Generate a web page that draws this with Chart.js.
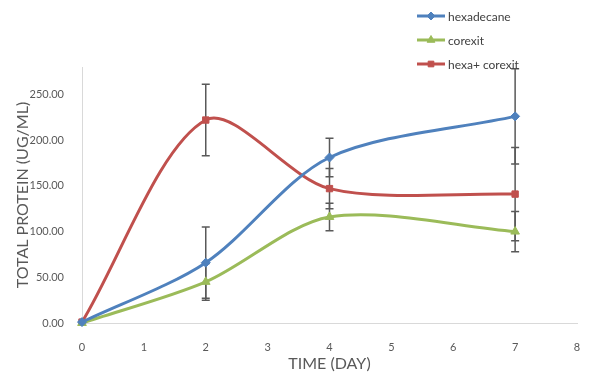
<!DOCTYPE html>
<html>
<head>
<meta charset="utf-8">
<title>Total protein</title>
<script src="https://cdn.jsdelivr.net/npm/chart.js@4"></script>
<style>
    body { margin: 0; background: #fff; }
    #wrap { position: relative; width: 595px; height: 377px; }
    #legend { position: absolute; left: 417px; top: 4px; font-family: Lato, sans-serif; font-size: 12px; color: #404040; }
    #legend div { height: 24px; display: flex; align-items: center; }
    #legend canvas { margin-right: 3px; }
</style>
</head>
<body>
<div id="wrap">
    <canvas id="proteinChart" width="595" height="377"></canvas>
    <div id="legend"></div>
</div>
<script>
// data
const days = [0, 2, 4, 7];
const seriesNames = ['hexadecane', 'corexit', 'hexa+ corexit'];
const hexadecane = [1, 66, 181, 226];
const hexadecaneErr = [0, 39, 21, 52];
const corexit = [0, 45, 116, 100];
const corexitErr = [0, 20, 15, 22];
const hexaCorexit = [1, 222, 147, 141];
const hexaCorexitErr = [0, 39, 22, 51];
const yTicks = [0, 50, 100, 150, 200, 250];
const xTicks = [0, 1, 2, 3, 4, 5, 6, 7, 8];

const colors = ['#4F81BD', '#9BBB59', '#C0504D'];
const shapes = ['rectRot', 'triangle', 'rect'];
const sizes = [4.5, 5, 4.5];
const values = [hexadecane, corexit, hexaCorexit];
const errors = [hexadecaneErr, corexitErr, hexaCorexitErr];

function makeDataset(i) {
    return {
        label: seriesNames[i],
        data: days.map((d, j) => ({ x: d, y: values[i][j] })),
        errs: errors[i],
        borderColor: colors[i],
        backgroundColor: colors[i],
        borderWidth: 3,
        pointStyle: shapes[i],
        pointRadius: sizes[i],
        pointBorderWidth: 1,
        tension: 0.3,
        clip: false
    };
}

// draws the error bars under the lines, through the scales
const errorBars = {
    id: 'errorBars',
    beforeDatasetsDraw(chart) {
        const ctx = chart.ctx;
        const xs = chart.scales.x, ys = chart.scales.y;
        ctx.save();
        ctx.strokeStyle = '#595959';
        ctx.lineWidth = 1.5;
        chart.data.datasets.forEach(ds => {
            ds.data.forEach((p, j) => {
                const e = ds.errs[j];
                if (!e) return;
                const x = xs.getPixelForValue(p.x);
                const top = ys.getPixelForValue(p.y + e);
                const bot = ys.getPixelForValue(p.y - e);
                ctx.beginPath();
                ctx.moveTo(x, top); ctx.lineTo(x, bot);
                ctx.moveTo(x - 4, top); ctx.lineTo(x + 4, top);
                ctx.moveTo(x - 4, bot); ctx.lineTo(x + 4, bot);
                ctx.stroke();
            });
        });
        ctx.restore();
    }
};

const tickFont = { family: 'Lato', size: 11 };
const titleFont = { family: 'Lato', size: 16 };

const chart = new Chart(document.getElementById('proteinChart'), {
    type: 'line',
    data: { datasets: [0, 1, 2].map(makeDataset) },
    options: {
        responsive: false,
        animation: false,
        layout: { padding: { top: 67, right: 18, bottom: 0, left: 0 } },
        plugins: { legend: { display: false }, tooltip: { enabled: false } },
        scales: {
            x: {
                type: 'linear',
                min: 0, max: 8,
                afterBuildTicks: s => { s.ticks = xTicks.map(v => ({ value: v })); },
                afterFit: s => { s.height = 54; },
                grid: { display: false },
                border: { display: true, color: '#D9D9D9', width: 1 },
                ticks: { color: '#595959', font: tickFont, padding: 10 },
                title: { display: true, text: 'TIME (DAY)', color: '#595959', font: titleFont, padding: { top: 4, bottom: 4 } }
            },
            y: {
                min: 0, max: 280,
                afterBuildTicks: s => { s.ticks = yTicks.map(v => ({ value: v })); },
                afterFit: s => { s.width = 82; },
                grid: { display: false },
                border: { display: true, color: '#D9D9D9', width: 1 },
                ticks: { color: '#595959', font: tickFont, padding: 10, callback: v => v.toFixed(2) },
                title: { display: true, text: 'TOTAL PROTEIN (UG/ML)', color: '#595959', font: titleFont, padding: { top: 13, bottom: 13 } }
            }
        }
    },
    plugins: [errorBars]
});

// legend, stacked on the right like the original
const legend = document.getElementById('legend');
seriesNames.forEach((name, i) => {
    const row = document.createElement('div');
    const c = document.createElement('canvas');
    c.width = 28; c.height = 12;
    const g = c.getContext('2d');
    g.strokeStyle = colors[i]; g.lineWidth = 3;
    g.beginPath(); g.moveTo(0, 6); g.lineTo(28, 6); g.stroke();
    g.fillStyle = colors[i]; g.strokeStyle = colors[i]; g.lineWidth = 1;
    Chart.helpers.drawPoint(g, { pointStyle: shapes[i], radius: sizes[i] - 0.5, borderWidth: 1 }, 14, 6);
    row.appendChild(c);
    row.appendChild(document.createTextNode(name));
    legend.appendChild(row);
});
</script>
</body>
</html>
